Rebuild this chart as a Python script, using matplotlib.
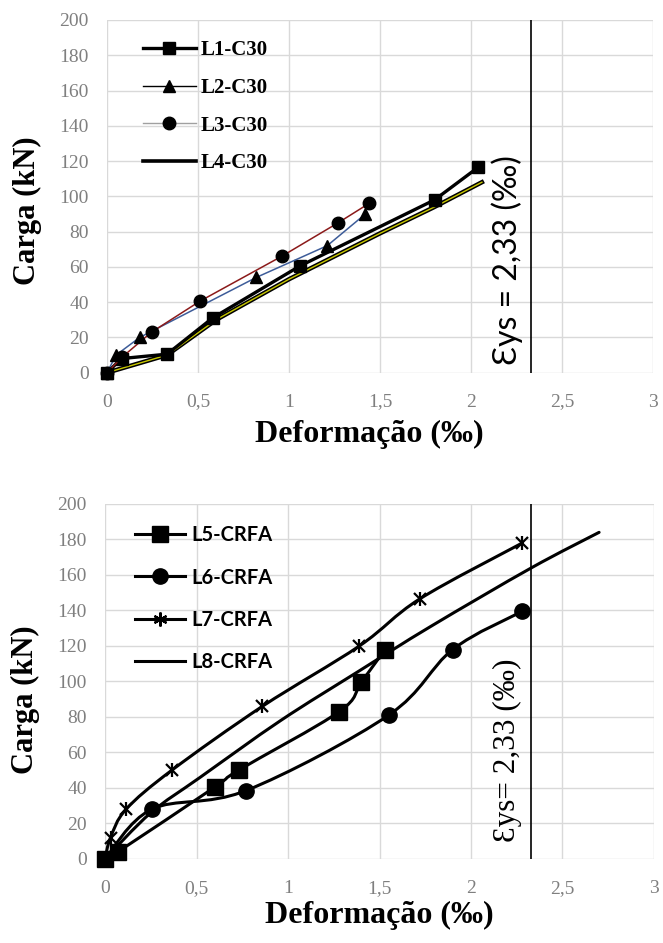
import matplotlib
matplotlib.use("Agg")
import matplotlib.pyplot as plt
import numpy as np
from matplotlib.path import Path
from matplotlib.patches import PathPatch
from matplotlib.lines import Line2D

SERIF = ["Liberation Serif", "DejaVu Serif"]
SANS = ["Lato", "DejaVu Sans"]

x_ticks = [0, 0.5, 1, 1.5, 2, 2.5, 3]
x_tick_labels = ["0", "0,5", "1", "1,5", "2", "2,5", "3"]
y_ticks = [0, 20, 40, 60, 80, 100, 120, 140, 160, 180, 200]
eps_ys = 2.33

# top chart (C30)
l1_x = [0, 0.08, 0.33, 0.58, 1.06, 1.80, 2.04]
l1_y = [0, 8, 10.5, 31, 60.5, 98, 116.5]
l2_x = [0, 0.05, 0.18, 0.82, 1.21, 1.42]
l2_y = [0, 10, 20, 54, 72, 90]
l3_x = [0, 0.085, 0.245, 0.51, 0.96, 1.27, 1.44]
l3_y = [0, 9, 23, 40.5, 66, 85, 96]
l4_x = [0, 0.33, 0.6, 1.0, 1.5, 1.8, 2.06]
l4_y = [0, 10, 30, 53, 79, 94, 108]

# bottom chart (CRFA)
l5_x = [0, 0.07, 0.60, 0.73, 1.28, 1.40, 1.53]
l5_y = [0, 4, 40.5, 50, 83, 99.5, 118]
l6_x = [0, 0.255, 0.77, 1.55, 1.90, 2.28]
l6_y = [0, 28, 38.5, 81, 118, 139.5]
l7_x = [0, 0.03, 0.115, 0.365, 0.86, 1.39, 1.72, 2.28]
l7_y = [0, 12, 28, 50, 86, 120, 146.5, 178]
l8_x = [0, 0.25, 0.52, 0.96, 1.39, 1.78, 2.33, 2.70]
l8_y = [0, 26, 46, 78, 106, 131, 164, 184]


def smooth(ax, xs, ys, lw=2.2, color="black", zorder=3):
    # Excel style smoothed line: Catmull-Rom segments drawn as cubic Beziers
    p = np.column_stack([xs, ys]).astype(float)
    verts = [p[0]]
    codes = [Path.MOVETO]
    n = len(p)
    for i in range(n - 1):
        p0 = p[i - 1] if i > 0 else p[i]
        p3 = p[i + 2] if i + 2 < n else p[i + 1]
        c1 = p[i] + (p[i + 1] - p0) / 6
        c2 = p[i + 1] - (p3 - p[i]) / 6
        verts += [c1, c2, p[i + 1]]
        codes += [Path.CURVE4] * 3
    ax.add_patch(PathPatch(Path(verts, codes), fill=False, lw=lw,
                           edgecolor=color, zorder=zorder, clip_on=False,
                           capstyle="round", joinstyle="round"))


def style_axes(ax):
    ax.set_xlim(0, 3)
    ax.set_ylim(0, 200)
    ax.set_xticks(x_ticks, x_tick_labels)
    ax.set_yticks(y_ticks)
    for s in ax.spines.values():
        s.set_visible(False)
    ax.grid(True, color="#d9d9d9", lw=1)
    ax.set_axisbelow(True)
    ax.tick_params(length=0, labelsize=14, labelcolor="#7f7f7f")
    ax.tick_params(axis="x", pad=15)
    ax.tick_params(axis="y", pad=13)
    for lab in ax.get_xticklabels() + ax.get_yticklabels():
        lab.set_fontfamily(SERIF)
    ax.set_ylabel("Carga (kN)", fontsize=22, fontweight="bold", family=SERIF)
    ax.set_xlabel("Deformação (‰)", fontsize=23, fontweight="bold", family=SERIF)
    ax.axvline(eps_ys, color="black", lw=1.2, zorder=2)


fig = plt.figure(figsize=(6.63, 9.43), dpi=100)

# ---- top ----
ax1 = fig.add_axes([0.1614, 0.6048, 0.8235, 0.374])
style_axes(ax1)
ax1.plot(l4_x, l4_y, "-", color="black", lw=3.2, zorder=3, clip_on=False)
ax1.plot(l4_x, l4_y, "-", color="#c8c800", lw=1.0, zorder=3, clip_on=False)
ax1.plot(l1_x, l1_y, "-s", color="black", lw=2.4, ms=8, zorder=4, clip_on=False)
ax1.plot(l2_x, l2_y, "-", color="#3d5c99", lw=1.1, zorder=4, clip_on=False)
ax1.plot(l2_x, l2_y, "^", color="black", ms=8, zorder=5, clip_on=False)
ax1.plot(l3_x, l3_y, "-", color="#8b1a1a", lw=1.1, zorder=4, clip_on=False)
ax1.plot(l3_x, l3_y, "o", color="black", ms=9, zorder=5, clip_on=False)
h_top = [
    Line2D([], [], color="black", lw=2.4, marker="s", ms=8),
    Line2D([], [], color="black", lw=1.0, marker="^", ms=8),
    Line2D([], [], color="#a0a0a0", lw=1.0, marker="o", mfc="black", mec="black", ms=9),
    Line2D([], [], color="black", lw=2.6),
]
ax1.legend(h_top, ["L1-C30", "L2-C30", "L3-C30", "L4-C30"], loc="upper left",
           bbox_to_anchor=(0.035, 0.99), frameon=False, handlelength=2.55,
           handletextpad=0.25, labelspacing=0.85, borderpad=0.3,
           prop={"family": SERIF, "weight": "bold", "size": 15})
ax1.yaxis.set_label_coords(-0.119, 0.458)
ax1.xaxis.set_label_coords(0.48, -0.134)
ax1.text(2.20, 64, "Ɛys = 2,33 (‰)", rotation=90, ha="center", va="center",
         fontsize=23, family=SANS)

# ---- bottom ----
ax2 = fig.add_axes([0.1584, 0.0891, 0.828, 0.3765])
style_axes(ax2)
smooth(ax2, l8_x, l8_y)
smooth(ax2, l5_x, l5_y)
smooth(ax2, l6_x, l6_y)
smooth(ax2, l7_x, l7_y)
ax2.plot(l5_x, l5_y, "s", color="black", ms=12, zorder=5, clip_on=False)
ax2.plot(l6_x, l6_y, "o", color="black", ms=11, zorder=5, clip_on=False)
ax2.plot(l7_x, l7_y, "x", color="black", ms=9, mew=1.6, zorder=5, clip_on=False)
ax2.plot(l7_x, l7_y, "|", color="black", ms=10, mew=1.6, zorder=5, clip_on=False)
h_bot = [
    Line2D([], [], color="black", lw=2.2, marker="s", ms=11),
    Line2D([], [], color="black", lw=2.2, marker="o", ms=11),
    Line2D([], [], color="black", lw=2.2, marker=(6, 2, 0), ms=10, mew=1.6),
    Line2D([], [], color="black", lw=2.2),
]
ax2.legend(h_bot, ["L5-CRFA", "L6-CRFA", "L7-CRFA", "L8-CRFA"], loc="upper left",
           bbox_to_anchor=(0.025, 0.985), frameon=False, handlelength=2.5,
           handletextpad=0.3, labelspacing=1.1, borderpad=0.3,
           prop={"family": SANS, "weight": "bold", "size": 14.5})
ax2.yaxis.set_label_coords(-0.118, 0.448)
ax2.xaxis.set_label_coords(0.5, -0.118)
ax2.text(2.20, 61, "Ɛys= 2,33 (‰)", rotation=90, ha="center", va="center",
         fontsize=22.5, family=SERIF)

fig.savefig("out.png", dpi=100)
